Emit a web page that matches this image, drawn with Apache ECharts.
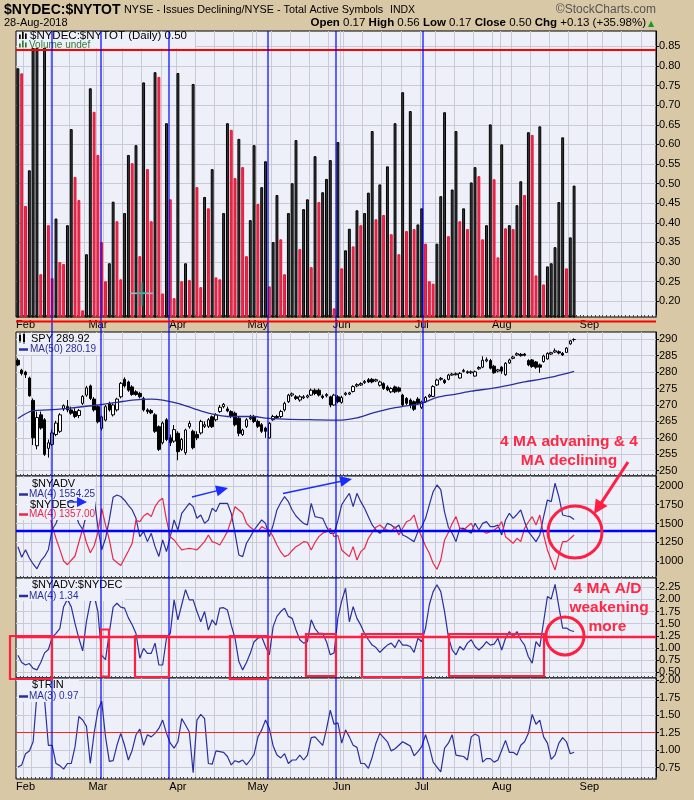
<!DOCTYPE html>
<html><head><meta charset="utf-8">
<script src="https://cdn.jsdelivr.net/npm/echarts@6.0.0/dist/echarts.min.js"></script>
<style>
html,body{margin:0;padding:0;background:#d9c8a6;}
#chart{width:694px;height:800px;}
</style></head>
<body><div id="chart"></div>
<script>
// ================= DATA =================
// Trading-day calendar (categories): 147 sessions Jan 30 – Aug 28 2018, plus empty future sessions
const HOLIDAYS = ['2018-02-19','2018-03-30','2018-05-28','2018-07-04','2018-09-03'];
const MONTHS = ['Jan','Feb','Mar','Apr','May','Jun','Jul','Aug','Sep','Oct','Nov','Dec'];

// $NYDEC:$NYTOT daily values
const ratioBars = [
0.794,0.781,0.443,0.534,0.850,0.855,0.269,0.850,0.394,0.259,
0.411,0.300,0.295,0.394,0.639,0.517,0.458,0.177,0.320,0.743,
0.683,0.573,0.351,0.251,0.297,0.454,0.404,0.256,0.425,0.573,
0.552,0.598,0.315,0.758,0.537,0.404,0.784,0.772,0.220,0.654,
0.460,0.208,0.782,0.251,0.297,0.254,0.754,0.491,0.236,0.466,
0.437,0.537,0.261,0.256,0.425,0.654,0.637,0.514,0.614,0.542,
0.315,0.407,0.598,0.448,0.491,0.557,0.238,0.351,0.471,0.358,
0.269,0.425,0.501,0.611,0.333,0.435,0.460,0.287,0.570,0.453,
0.478,0.512,0.560,0.182,0.606,0.284,0.330,0.385,0.340,0.432,
0.394,0.425,0.477,0.634,0.409,0.498,0.420,0.544,0.371,0.654,
0.320,0.733,0.379,0.685,0.384,0.396,0.437,0.347,0.251,0.245,
0.347,0.468,0.682,0.366,0.485,0.634,0.404,0.437,0.384,0.503,
0.542,0.519,0.358,0.394,0.651,0.511,0.312,0.600,0.386,0.394,
0.384,0.445,0.506,0.471,0.631,0.624,0.266,0.646,0.243,0.289,
0.297,0.338,0.453,0.618,0.284,0.363,0.495];

// SPY daily OHLC
const spyOpen = [
283.6,280.6,280.0,278.2,271.4,257.6,267.0,265.5,256.8,258.0,
261.0,262.0,268.8,269.5,268.5,268.0,266.8,270.5,273.0,275.8,
271.8,269.5,262.9,265.4,270.5,267.0,268.5,272.5,277.8,277.0,
275.5,274.0,273.5,272.0,268.5,268.3,267.0,263.4,258.5,265.5,
260.0,259.0,261.4,256.5,255.5,263.4,262.0,261.0,261.5,263.5,
263.5,266.4,265.5,268.0,269.5,268.8,268.0,267.5,266.0,261.0,
263.5,265.8,266.5,265.0,264.0,263.0,260.0,265.5,266.5,266.5,
268.5,271.0,273.0,272.5,271.5,272.2,272.4,273.0,274.5,274.5,
272.7,272.8,272.5,270.0,272.5,270.8,273.2,273.3,274.1,275.8,
276.1,276.8,277.7,277.8,277.3,276.0,276.5,275.5,274.0,275.5,
275.2,273.0,272.0,271.5,271.0,271.8,269.3,271.0,272.5,272.6,
276.1,277.8,277.5,277.8,279.1,279.2,278.2,280.2,280.1,279.8,
278.8,281.0,281.5,283.4,283.5,281.8,280.3,281.5,279.2,282.8,
284.2,285.2,285.4,285.5,283.5,283.7,283.1,282.2,283.2,284.0,
285.5,286.1,286.2,285.7,286.0,288.6,289.9];
const spyClose = [
282.2,279.6,279.2,272.8,260.0,266.2,263.0,255.0,258.5,261.5,
264.5,267.0,269.8,268.5,267.5,266.5,268.3,272.6,275.2,272.0,
268.5,264.9,266.4,269.5,268.5,270.0,271.8,276.6,275.8,274.5,
273.2,273.2,272.5,268.5,268.0,267.6,262.0,256.5,264.5,259.5,
258.5,262.5,255.8,259.5,262.4,264.4,257.0,260.0,265.0,264.0,
265.5,263.4,267.0,269.3,270.2,268.2,266.5,264.0,261.4,262.4,
265.5,266.2,265.0,263.5,262.0,262.0,264.4,266.5,266.2,268.0,
270.5,273.0,273.4,272.0,272.5,272.5,272.8,274.5,273.5,273.0,
272.3,273.2,270.0,273.0,271.0,272.3,273.6,273.7,275.6,276.2,
276.5,277.2,277.0,277.0,277.7,277.0,275.0,274.6,275.0,274.0,
274.2,270.0,270.5,270.0,268.7,270.5,270.9,272.3,273.0,275.6,
277.6,278.1,276.8,279.1,279.4,279.5,279.6,280.5,279.8,280.1,
280.1,281.4,283.6,283.8,281.2,279.8,280.7,280.3,282.7,283.7,
284.6,285.6,285.0,285.1,282.2,281.7,281.5,281.5,284.9,285.7,
285.9,286.5,285.8,285.2,287.3,289.5,289.92];
const spyLow = [
281.8,279.0,278.2,272.5,257.8,256.5,262.5,254.5,254.0,257.5,
260.5,261.5,268.2,267.8,267.0,266.0,266.0,270.0,272.5,271.5,
268.0,264.4,262.2,265.0,268.0,266.5,268.0,272.0,275.3,274.0,
272.8,272.8,272.0,268.0,267.3,267.2,261.5,256.0,258.0,259.0,
257.5,258.5,253.2,256.0,254.8,262.8,256.5,259.3,261.0,263.0,
263.0,263.0,265.0,267.6,269.0,267.8,266.0,263.5,260.5,260.6,
263.0,265.4,264.5,263.0,261.5,260.0,259.8,265.2,265.8,266.0,
268.0,270.6,272.5,271.5,271.0,271.8,272.0,272.8,273.0,272.6,
271.8,272.3,269.3,269.8,270.5,270.4,272.8,273.0,273.8,275.4,
275.8,276.4,276.7,276.6,277.0,275.6,274.6,274.2,273.6,273.6,
273.8,269.6,270.0,269.0,268.2,270.0,268.8,270.6,272.2,272.4,
275.8,277.4,276.4,277.5,278.9,279.0,278.0,279.9,279.5,279.4,
278.6,280.7,281.2,283.0,280.8,279.5,279.9,279.5,278.9,282.5,
283.9,284.9,284.7,284.8,281.8,281.3,281.0,279.8,282.9,283.8,
285.2,285.8,285.4,284.9,285.8,288.3,289.3];
const spyHigh = [
284.2,281.0,280.4,278.6,272.0,268.0,268.0,266.0,259.5,262.5,
265.2,267.5,270.2,271.5,269.5,269.0,268.8,273.0,275.8,276.2,
272.4,270.0,266.8,270.0,271.0,270.5,272.2,277.0,278.4,277.4,
276.0,274.5,274.0,272.5,269.0,268.8,267.5,263.8,265.0,266.0,
261.0,263.9,262.0,260.0,262.8,265.2,262.5,262.0,265.5,265.0,
266.0,266.8,267.5,270.0,270.6,269.5,268.4,268.0,266.5,262.8,
266.0,267.0,267.0,265.5,264.5,263.4,264.8,267.0,267.0,268.5,
271.0,273.4,273.8,273.0,273.0,273.0,273.2,275.0,275.0,275.0,
273.2,273.6,272.8,273.4,273.0,272.8,274.0,274.0,276.0,276.6,
276.9,277.6,278.2,278.2,278.0,277.4,276.9,276.0,275.4,275.9,
275.6,273.4,272.4,272.0,271.4,272.4,271.3,272.7,273.4,276.0,
278.0,278.5,277.9,279.5,279.8,279.9,280.0,281.0,280.5,280.5,
280.5,281.8,284.8,284.5,284.0,282.2,281.0,281.8,283.0,284.1,
285.0,286.0,285.8,285.8,283.9,284.0,283.4,282.6,285.3,286.0,
286.2,287.2,286.6,286.1,287.6,289.8,290.3];
// SPY MA(50): [session number (1 = Jan 30), value]
const spyMa50 = [[1,265.9],[5,268.3],[9,268.5],[14,269.0],[22,270.0],[27,270.8],[31,271.5],[36,271.8],
[39,271.5],[43,270.5],[47,269.0],[51,267.5],[56,266.5],[63,266.5],[66,266.0],[71,265.7],[79,265.5],
[85,265.4],[90,266.1],[94,267.5],[99,269.0],[103,269.7],[107,270.5],[111,272.3],[116,273.3],[120,274.2],
[125,275.0],[129,275.8],[134,277.0],[138,277.8],[142,278.7],[147,280.19]];

// $NYADV MA(4)
const advMa4 = [
1190,1050,1150,1040,960,895,1000,1060,1150,1420,
1500,1650,1800,1880,1820,1650,1500,1420,1620,1820,
1840,1450,1150,1300,1550,1850,1880,1860,1810,1740,
1680,1569,1324,1391,1258,1369,1191,1060,1280,1124,
1324,1547,1413,1636,1702,1769,1724,1569,1613,1502,
1547,1702,1658,1769,1769,1769,1636,1369,1080,1058,
1236,1320,1413,1480,1547,1502,1324,1480,1680,1780,
1858,1791,1680,1600,1547,1502,1480,1769,1591,1580,
1569,1458,1369,1369,1540,1750,1830,1902,1724,1902,
1791,1702,1591,1480,1413,1369,1413,1502,1480,1436,
1480,1347,1324,1290,1258,1391,1458,1569,1747,1924,
2013,1950,1650,1450,1369,1258,1436,1436,1400,1369,
1502,1413,1502,1524,1458,1458,1480,1347,1547,1636,
1569,1620,1680,1524,1391,1324,1258,1347,1591,1813,
1791,2036,1858,1613,1600,1591,1554];
// $NYDEC MA(4)
const decMa4 = [
1700,1850,1750,1850,1920,1980,1880,1820,1700,1467,
1300,1155,1000,950,1010,1066,1250,1430,1244,1110,
1200,1380,1700,1480,1280,1022,980,940,1036,1133,
1236,1547,1524,1600,1636,1591,1724,1800,1836,1547,
1324,1280,1213,1147,1160,1169,1160,1147,1200,1258,
1347,1258,1240,1213,1300,1391,1547,1724,1680,1636,
1502,1450,1413,1391,1458,1430,1413,1324,1213,1120,
1058,1080,1140,1191,1220,1258,1250,1147,1250,1324,
1370,1391,1436,1324,1340,1147,1100,1058,1191,1013,
1124,1169,1302,1380,1450,1480,1436,1413,1391,1458,
1347,1436,1524,1547,1613,1436,1324,1200,1102,969,
889,1013,1280,1380,1500,1591,1436,1413,1460,1502,
1391,1413,1400,1369,1391,1413,1450,1524,1324,1280,
1236,1302,1258,1436,1520,1591,1480,1613,1347,1147,
1013,880,1080,1258,1258,1300,1347];
// $NYADV:$NYDEC MA(4)
const adRatioMa4 = [
0.85,0.70,0.65,0.68,0.58,0.55,0.70,0.90,0.97,1.22,
1.30,1.40,1.85,2.00,1.85,1.50,1.20,0.94,1.55,1.95,
2.08,1.75,0.85,0.76,1.32,1.84,1.92,1.84,1.82,1.62,
1.48,1.30,0.79,0.99,0.89,0.89,1.10,0.65,0.65,1.20,
1.30,1.99,1.58,1.89,2.20,1.99,1.99,1.75,1.54,1.75,
1.37,1.58,1.47,1.82,1.83,1.78,1.47,1.20,0.72,0.55,
0.70,0.89,1.13,1.20,1.23,1.03,0.86,1.44,1.65,1.75,
1.82,1.65,1.61,1.37,1.17,1.10,1.13,1.58,1.40,1.30,
1.30,1.13,0.86,0.90,1.62,1.97,2.23,1.54,1.85,1.61,
1.47,1.30,1.17,1.06,1.01,0.91,0.99,1.06,1.10,1.01,
1.17,1.06,1.06,1.03,0.91,1.20,1.13,1.41,1.89,2.16,
2.30,2.16,1.75,1.23,0.96,0.86,1.03,0.96,1.10,1.17,
1.03,0.96,1.03,1.13,1.06,1.08,1.20,0.96,1.20,1.34,
1.23,1.34,1.17,1.06,0.82,0.69,1.13,1.03,1.54,2.06,
2.01,2.31,1.85,1.41,1.41,1.36,1.34];
// $TRIN MA(3)
const trinMa3 = [
0.76,0.79,0.95,0.99,1.12,1.80,1.78,1.72,1.07,1.07,
0.81,0.78,0.73,0.81,0.81,1.05,1.48,1.43,1.34,0.81,
1.24,1.57,1.70,1.19,0.84,0.85,1.07,1.24,1.07,0.86,
1.00,1.22,1.30,1.07,1.22,1.19,1.24,1.31,1.43,1.24,
1.10,1.03,1.12,1.45,1.36,1.26,0.68,1.43,1.51,1.45,
0.81,0.80,0.99,0.98,0.97,0.91,0.79,0.85,0.83,0.86,
0.79,0.86,0.94,1.19,1.29,1.43,1.31,1.06,0.93,0.89,
0.95,0.81,0.86,0.86,0.93,0.86,0.93,1.18,1.19,1.13,
1.07,1.30,1.57,1.37,1.39,1.10,1.29,1.19,1.07,1.04,
0.81,0.81,0.74,0.90,1.10,1.24,1.18,1.12,0.99,1.02,
1.07,1.12,1.09,1.06,0.92,0.98,1.05,1.22,1.05,0.83,
0.76,0.69,1.03,1.10,1.22,0.93,0.92,0.91,0.86,1.19,
1.23,1.20,0.83,0.88,0.88,0.83,0.86,1.00,1.14,0.97,
0.97,0.93,1.07,1.12,1.24,1.51,1.37,1.43,1.19,1.10,
0.87,0.93,1.10,1.18,1.12,0.95,0.97];

// reference levels
const barRefLevel = 0.84, adRefLevel = 1404, ratioRefLevel = 1.235, trinRefLevel = 1.25;

// tick labels
const barTicks = [0.20,0.25,0.30,0.35,0.40,0.45,0.50,0.55,0.60,0.65,0.70,0.75,0.80,0.85];
const spyTicks = [250,255,260,265,270,275,280,285,290];
const adTicks = [1000,1250,1500,1750,2000];
const ratioTicks = [0.50,0.75,1.00,1.25,1.50,1.75,2.00,2.25];
const trinTicks = [0.75,1.00,1.25,1.50,1.75,2.00];

// ================= BUILD =================
function buildTradingDays(n) {
  const out = [];
  const d = new Date(Date.UTC(2018, 0, 30));
  while (out.length < n) {
    const wd = d.getUTCDay();
    const iso = d.toISOString().slice(0, 10);
    if (wd !== 0 && wd !== 6 && HOLIDAYS.indexOf(iso) < 0) out.push(iso);
    d.setUTCDate(d.getUTCDate() + 1);
  }
  return out;
}
const dates = buildTradingDays(168);
const monthStart = new Set(), weekStart = new Set();
for (let i = 1; i < dates.length; i++) {
  if (dates[i].slice(5, 7) !== dates[i - 1].slice(5, 7)) monthStart.add(i);
  const a = new Date(dates[i] + 'T00:00:00Z').getUTCDay();
  const b = new Date(dates[i - 1] + 'T00:00:00Z').getUTCDay();
  if (a < b) weekStart.add(i);
}

const PANEL_BG = '#eef0f9', GRIDC = '#c9cad3';
const LEFT = 16, WIDTH = 640;
const grids = [
  {top: 31, height: 286}, {top: 332, height: 144}, {top: 476, height: 102},
  {top: 578, height: 100}, {top: 678, height: 101}
].map(g => Object.assign({left: LEFT, width: WIDTH, show: true, backgroundColor: PANEL_BG,
  borderColor: '#000', borderWidth: 1}, g));

function xAx(gi, showLabels) {
  return {
    type: 'category', gridIndex: gi, data: dates, boundaryGap: true,
    axisLine: {show: false},
    axisTick: {show: true, inside: true, length: 2, interval: 0, lineStyle: {color: '#444'}},
    axisLabel: {show: showLabels, interval: (i) => monthStart.has(i),
      formatter: (v) => MONTHS[+v.slice(5, 7) - 1], margin: 2, color: '#000',
      fontSize: 11, fontFamily: 'Liberation Sans'},
    splitLine: {show: true, interval: (i) => weekStart.has(i) || monthStart.has(i),
      lineStyle: {color: GRIDC, width: 1}}
  };
}
function yAx(gi, min, max, ticks, dec) {
  return {
    type: 'value', gridIndex: gi, position: 'right', min: min, max: max,
    axisLine: {show: true, lineStyle: {color: '#000'}},
    axisTick: {show: true, length: 3, customValues: ticks, lineStyle: {color: '#000'}},
    axisLabel: {show: true, customValues: ticks, formatter: (v) => v.toFixed(dec), margin: 3,
      color: '#000', fontSize: 11, fontFamily: 'Liberation Sans'},
    splitLine: {show: true, lineStyle: {color: GRIDC, width: 1}}
  };
}
function refLine(v, color, width) {
  return {silent: true, symbol: ['none', 'none'], label: {show: false}, animation: false,
    lineStyle: {color: color, width: width, type: 'solid'}, emphasis: {disabled: true},
    data: [{yAxis: v}]};
}

const blackBar = {color: '#3a3a3a', borderColor: '#000', borderWidth: 1};
const redBar = {color: '#d8375c', borderColor: '#ee1030', borderWidth: 1};
const barData = ratioBars.map((v, i) => ({value: v,
  itemStyle: (i > 0 && v < ratioBars[i - 1]) ? redBar : blackBar}));
const candleData = spyOpen.map((o, i) => [o, spyClose[i], spyLow[i], spyHigh[i]]);
const idx = (arr) => arr.map((v, i) => [i, v]);

const NAVY = '#2a2f9c', LRED = '#e8284a';

// ---------- graphics (titles, legends, hand-drawn annotations) ----------
const G = [];
const Z_BG = 35, Z_LEG = 40, Z_ANN = 60;
function T(x, y, text, font, fill, extra) {
  G.push({type: 'text', x: x, y: y, z: Z_LEG, silent: true,
    style: Object.assign({text: text, font: font, fill: fill || '#000', align: 'left', verticalAlign: 'middle'}, extra || {})});
}
function L(x1, y1, x2, y2, stroke, w, z) {
  G.push({type: 'line', z: z || Z_ANN, silent: true, shape: {x1, y1, x2, y2}, style: {stroke: stroke, lineWidth: w}});
}
function R(x, y, w, h, fill, z) {
  G.push({type: 'rect', z: z || Z_LEG, silent: true, shape: {x, y, width: w, height: h}, style: {fill: fill}});
}
function arrow(x1, y1, x2, y2, color, w, hl, hw) {
  const dx = x2 - x1, dy = y2 - y1, len = Math.hypot(dx, dy), ux = dx / len, uy = dy / len;
  const bx = x2 - ux * hl, by = y2 - uy * hl;
  L(x1, y1, bx + ux * 1, by + uy * 1, color, w, Z_ANN + 1);
  G.push({type: 'polygon', z: Z_ANN + 1, silent: true,
    shape: {points: [[x2, y2], [bx - uy * hw, by + ux * hw], [bx + uy * hw, by - ux * hw]]},
    style: {fill: color}});
}
const LF = '11px "Liberation Sans"', MF = '10px "Liberation Sans"';

// Title block
T(4, 10, '$NYDEC:$NYTOT', 'bold 14px "Liberation Sans"', '#000');
T(124, 10, 'NYSE - Issues Declining/NYSE - Total Active Symbols', '10.8px "Liberation Sans"', '#000');
T(390, 10, 'INDX', '10.5px "Liberation Sans"', '#000');
T(656, 10, '\u00a9StockCharts.com', '12px "Liberation Sans"', '#555', {align: 'right'});
T(4, 23, '28-Aug-2018', '11px "Liberation Sans"', '#000');
T(646, 23, '{k|Open} 0.17 {k|High} 0.56 {k|Low} 0.17 {k|Close} 0.50 {k|Chg} +0.13 (+35.98%)',
  '11.5px "Liberation Sans"', '#000', {align: 'right', rich: {k: {font: 'bold 11.5px "Liberation Sans"', fill: '#000'}}});
T(648, 23.5, '\u25b2', '8px "DejaVu Sans"', '#1a9a2a');

// legend background blocks (StockCharts legends are opaque)
R(17, 32, 178, 16, PANEL_BG, Z_BG);
R(17, 333, 82, 22, PANEL_BG, Z_BG);
R(17, 478, 78, 42, PANEL_BG, Z_BG);
R(17, 579, 108, 22, PANEL_BG, Z_BG);
R(17, 679, 62, 23, PANEL_BG, Z_BG);

// Panel 1 legend
R(19, 34.5, 1.7, 4.5, '#000'); R(22, 31.5, 1.7, 7.5, '#000'); R(25, 33.5, 1.7, 5.5, '#000');
T(30, 35.5, '$NYDEC:$NYTOT (Daily) 0.50', '11.5px "Liberation Sans"', '#000');
R(19, 43.5, 1.7, 4, '#2e7d32'); R(22, 40.5, 1.7, 7, '#2e7d32'); R(25, 42.5, 1.7, 5, '#2e7d32');
T(29, 45, 'Volume undef', MF, '#2e7d32');
// Panel 2 legend
R(19, 335, 2, 6, '#000'); R(23, 334, 2, 8, '#000'); L(20, 333, 20, 343, '#000', 0.8, Z_LEG); L(24, 332, 24, 344, '#000', 0.8, Z_LEG);
T(31, 338.5, 'SPY 289.92', LF, '#000');
L(19, 349.5, 28, 349.5, NAVY, 2.5, Z_LEG);
T(30, 349.5, 'MA(50) 280.19', MF, NAVY);
// Panel 3 legend
T(32, 483.5, '$NYADV', LF, '#000');
L(19, 494.5, 28, 494.5, NAVY, 2.5, Z_LEG);
T(29, 494.5, 'MA(4) 1554.25', MF, NAVY);
T(30, 504.5, '$NYDEC', LF, '#000');
L(19, 514.5, 28, 514.5, LRED, 2.5, Z_LEG);
T(29, 514.5, 'MA(4) 1357.00', MF, LRED);
// Panel 4 legend
T(32, 584.5, '$NYADV:$NYDEC', LF, '#000');
L(19, 596, 28, 596, NAVY, 2.5, Z_LEG);
T(29, 596, 'MA(4) 1.34', MF, NAVY);
// Panel 5 legend
T(32, 685, '$TRIN', LF, '#000');
L(19, 696.5, 28, 696.5, NAVY, 2.5, Z_LEG);
T(29, 696.5, 'MA(3) 0.97', MF, NAVY);

// Hand-drawn blue verticals
[52, 101, 169, 268, 336, 423].forEach(x => L(x, 31, x, 779, '#0000ff', 1.2, Z_ANN));
// red lines: under panel 1, and panel-1 level line redrawn over the legend block
L(16, 321.5, 656, 321.5, '#ff0000', 2.2, Z_ANN);
// crosshair cursor artifact
L(130, 293.3, 153, 293.3, '#a9b4bc', 1.6, Z_ANN); L(137, 293.3, 146, 293.3, '#2fb39c', 1.6, Z_ANN);
L(141.7, 282, 141.7, 306, '#2fb39c', 1.6, Z_ANN);
// blue arrows (panel 3)
arrow(67, 502, 87, 502, '#1a2cff', 1.4, 10, 5);
arrow(192, 497, 228, 488, '#1a2cff', 1.4, 12, 5.5);
arrow(283, 493.5, 352, 479, '#1a2cff', 1.4, 12, 5.5);
// red boxes (panel 4)
const RC = '#ff1f45';
[[10, 636, 42, 43], [101, 629.5, 8, 47], [135, 636, 34, 41], [230, 636, 38, 43],
 [306, 634, 30, 42], [362, 634, 61, 43], [449, 634, 95, 42]].forEach(r =>
  G.push({type: 'rect', z: Z_ANN, silent: true, shape: {x: r[0], y: r[1], width: r[2], height: r[3]},
    style: {fill: 'none', stroke: RC, lineWidth: 2.2}}));
// red circles
G.push({type: 'ellipse', z: Z_ANN, silent: true, shape: {cx: 575, cy: 532, rx: 27, ry: 26},
  style: {fill: 'none', stroke: RC, lineWidth: 3}});
G.push({type: 'ellipse', z: Z_ANN, silent: true, shape: {cx: 565, cy: 636, rx: 19, ry: 19},
  style: {fill: 'none', stroke: RC, lineWidth: 3}});
// red arrow
arrow(628, 462, 594, 514, RC, 3, 14, 7);
// annotation texts
const AF = 'bold 15.5px "Liberation Sans"';
const ann = (x, y, t) => G.push({type: 'text', x: x, y: y, z: Z_ANN, silent: true,
  style: {text: t, font: AF, fill: '#ff2846', align: 'center', verticalAlign: 'middle'}});
ann(569, 442, '4 MA advaning & 4');
ann(569, 461, 'MA declining');
ann(607.5, 589, '4 MA A/D');
ann(609, 608, 'weakening');
ann(607.5, 627, 'more');

const option = {
  animation: false,
  backgroundColor: '#d9c8a6',
  grid: grids,
  xAxis: [xAx(0, true), xAx(1, false), xAx(2, false), xAx(3, false), xAx(4, true)],
  yAxis: [
    yAx(0, 0.16, 0.889, barTicks, 2),
    yAx(1, 248.4, 292.2, spyTicks, 0),
    yAx(2, 773, 2133, adTicks, 0),
    yAx(3, 0.383, 2.44, ratioTicks, 2),
    yAx(4, 0.589, 2.03, trinTicks, 2)
  ],
  series: [
    {type: 'bar', xAxisIndex: 0, yAxisIndex: 0, data: barData, barWidth: 2.9, clip: true, z: 3,
      markLine: Object.assign(refLine(barRefLevel, '#ff0000', 2.2), {z: 50})},
    {type: 'candlestick', xAxisIndex: 1, yAxisIndex: 1, data: candleData, barWidth: 3, clip: true,
      itemStyle: {color: '#ffffff', color0: '#000000', borderColor: '#000000', borderColor0: '#000000', borderWidth: 1}},
    {type: 'line', xAxisIndex: 1, yAxisIndex: 1, data: spyMa50.map(p => [p[0] - 1, p[1]]), smooth: 0.3,
      showSymbol: false, lineStyle: {color: NAVY, width: 1.3}},
    {type: 'line', xAxisIndex: 2, yAxisIndex: 2, data: idx(advMa4), showSymbol: false, clip: true,
      lineStyle: {color: NAVY, width: 1.2}, markLine: refLine(adRefLevel, '#0000ff', 2.4)},
    {type: 'line', xAxisIndex: 2, yAxisIndex: 2, data: idx(decMa4), showSymbol: false, clip: true,
      lineStyle: {color: LRED, width: 1.2}},
    {type: 'line', xAxisIndex: 3, yAxisIndex: 3, data: idx(adRatioMa4), showSymbol: false, clip: true,
      lineStyle: {color: NAVY, width: 1.2}, markLine: refLine(ratioRefLevel, '#ff1f45', 2.4)},
    {type: 'line', xAxisIndex: 4, yAxisIndex: 4, data: idx(trinMa3), showSymbol: false, clip: true,
      lineStyle: {color: NAVY, width: 1.2}, markLine: refLine(trinRefLevel, '#ff2020', 1.2)}
  ],
  graphic: {elements: G}
};

const chart = echarts.init(document.getElementById('chart'), null, {renderer: 'canvas'});
chart.setOption(option);
</script>
</body></html>
